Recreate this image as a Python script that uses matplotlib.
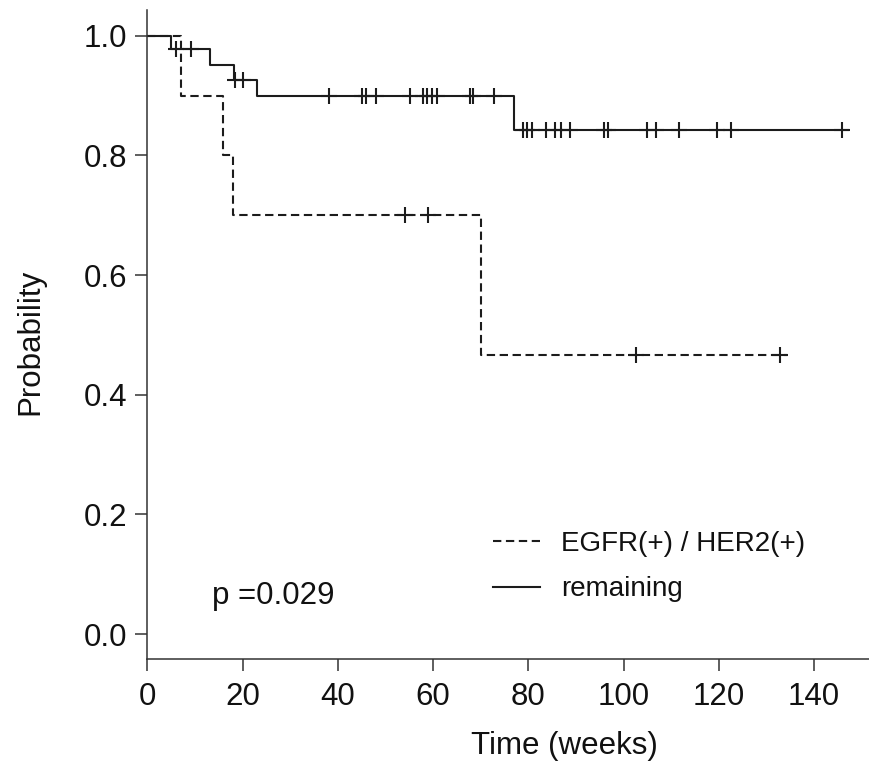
import numpy as np
import matplotlib
matplotlib.use("Agg")
import matplotlib.pyplot as plt
from matplotlib.lines import Line2D

plt.rcParams['font.family'] = ['Liberation Sans', 'DejaVu Sans']

# ---- data ----
# "remaining" group (solid)
rem_event_times = [5.0, 13.2, 18.2, 23.1, 77.0]
rem_surv = [0.977, 0.951, 0.926, 0.900, 0.843]
rem_censor = [6.1, 9.1, 18.4, 20.1, 38.2, 45.0, 46.0, 48.0, 55.1, 57.9, 58.8,
              59.8, 60.8, 67.8, 68.5, 72.9, 78.9, 79.8, 80.7, 83.8, 85.7, 86.8,
              88.7, 95.9, 96.7, 105.0, 106.9, 111.7, 119.6, 122.6, 145.9]
rem_end = 147.2

# "EGFR(+) / HER2(+)" group (dashed)
eh_event_times = [7.1, 16.0, 18.1, 70.0]
eh_surv = [0.900, 0.800, 0.700, 0.467]
eh_censor = [54.1, 59.0, 102.7, 132.9]
eh_end = 134.4

x_ticks = [0, 20, 40, 60, 80, 100, 120, 140]
y_ticks = [0.0, 0.2, 0.4, 0.6, 0.8, 1.0]
legend_labels = ["EGFR(+) / HER2(+)", "remaining"]
p_text = "p =0.029"

# ---- figure ----
W, H = 869, 767
fig = plt.figure(figsize=(W / 100, H / 100), dpi=100)
left_px, right_px, top_px, bottom_px = 147.3, 869, 10, 659.3
ax = fig.add_axes([left_px / W, 1 - bottom_px / H,
                   (right_px - left_px) / W, (bottom_px - top_px) / H])

col = '#1c1c1c'
txt = '#111111'
lw = 1.5
fs = 22.5


def km_xy(times, surv, end):
    xs = [0.0] + list(times) + [end]
    ys = [1.0] + list(surv) + [surv[-1]]
    return xs, ys


def censor_levels(times, surv, cens):
    t = np.asarray(times)
    s = np.concatenate([[1.0], np.asarray(surv)])
    idx = np.searchsorted(t, np.asarray(cens), side='right')
    return s[idx]


dash = (0, (4, 2.2))
xs, ys = km_xy(eh_event_times, eh_surv, eh_end)
ax.step(xs, ys, where='post', color=col, lw=lw, linestyle=dash)
ax.plot(eh_censor, censor_levels(eh_event_times, eh_surv, eh_censor), '+',
        color=col, ms=12, mew=1.5, clip_on=False)

xs, ys = km_xy(rem_event_times, rem_surv, rem_end)
ax.step(xs, ys, where='post', color=col, lw=lw, linestyle='-')
ax.plot(rem_censor, censor_levels(rem_event_times, rem_surv, rem_censor), '+',
        color=col, ms=12, mew=1.5, clip_on=False)

ax.set_xlim(0, (right_px - left_px) / 4.762)
y_per = 598.3
ax.set_ylim(-(659.3 - 634) / y_per, 1 + (35.7 - 10) / y_per)

for s in ['top', 'right']:
    ax.spines[s].set_visible(False)
for s in ['left', 'bottom']:
    ax.spines[s].set_linewidth(1.1)
    ax.spines[s].set_color('#333333')

ax.set_xticks(x_ticks)
ax.set_xticklabels([str(v) for v in x_ticks])
ax.set_yticks(y_ticks)
ax.set_yticklabels([f"{v:.1f}" for v in y_ticks])
ax.tick_params(axis='both', direction='out', length=8.6, width=1.1,
               color='#333333', labelsize=fs, labelcolor=txt)
ax.tick_params(axis='x', pad=8)
ax.tick_params(axis='y', pad=6)

fig.text(30 / W, 1 - 342 / H, "Probability", rotation=90, ha='center',
         va='center', fontsize=fs, color=txt)
fig.text(564 / W, 1 - 746 / H, "Time (weeks)", ha='center', va='center',
         fontsize=fs, color=txt)

ax.text(13.6, (634 - 604) / y_per, p_text, fontsize=fs, color=txt,
        va='baseline', ha='left')

handles = [Line2D([], [], color=col, lw=lw, linestyle=dash),
           Line2D([], [], color=col, lw=lw, linestyle='-')]
ax.legend(handles, legend_labels, loc='upper left',
          bbox_to_anchor=(493 / W, 1 - 531 / H), bbox_transform=fig.transFigure,
          frameon=False, fontsize=20, handlelength=1.7, handletextpad=0.75,
          labelspacing=0.7, borderpad=0, borderaxespad=0, labelcolor=txt)

fig.savefig("out.png", dpi=100)
